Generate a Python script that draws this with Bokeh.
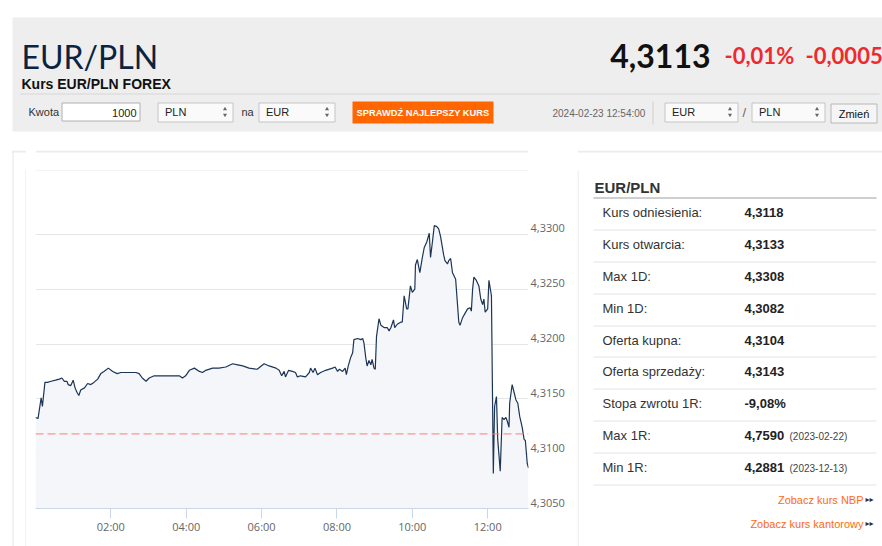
import pandas as pd
from bokeh.plotting import figure
from bokeh.models import (Range1d, LinearAxis, FixedTicker, CustomJSTickFormatter,
                          DatetimeTickFormatter, Span, ColumnDataSource)
from bokeh.layouts import column, row
from bokeh.core.properties import value
from bokeh.embed import file_html
from bokeh.resources import INLINE

# ---------------- data ----------------
DATE = "2024-02-23"
times = [
    "00:00", "00:04", "00:09", "00:11", "00:15", "00:19", "00:25", "00:32", "00:38", "00:42",
    "00:46", "00:50", "00:52", "00:56", "01:00", "01:03", "01:06", "01:09", "01:12", "01:18",
    "01:23", "01:28", "01:33", "01:39", "01:44", "01:49", "01:56", "02:03", "02:10", "02:16",
    "02:24", "02:32", "02:40", "02:45", "02:50", "02:56", "03:01", "03:09", "03:20", "03:35",
    "03:49", "03:54", "03:59", "04:05", "04:13", "04:21", "04:26", "04:31", "04:42", "04:52",
    "05:03", "05:14", "05:22", "05:30", "05:40", "05:53", "06:04", "06:12", "06:23", "06:28",
    "06:32", "06:36", "06:38", "06:43", "06:49", "06:54", "06:57", "07:02", "07:10", "07:16",
    "07:18", "07:22", "07:25", "07:29", "07:34", "07:42", "07:53", "07:57", "08:01", "08:04",
    "08:09", "08:13", "08:15", "08:18", "08:22", "08:25", "08:27", "08:33", "08:38", "08:41",
    "08:43", "08:46", "08:48", "08:51", "08:54", "08:56", "08:59", "09:01", "09:03", "09:07",
    "09:10", "09:15", "09:20", "09:23", "09:26", "09:30", "09:32", "09:36", "09:42", "09:44",
    "09:47", "09:51", "09:53", "09:57", "10:00", "10:04", "10:05", "10:08", "10:12", "10:16",
    "10:19", "10:23", "10:27", "10:29", "10:32", "10:35", "10:39", "10:42", "10:45", "10:50",
    "10:52", "10:56", "10:58", "11:01", "11:04", "11:09", "11:14", "11:16", "11:20", "11:23",
    "11:28", "11:32", "11:34", "11:36", "11:38", "11:42", "11:46", "11:49", "11:52", "11:54",
    "11:56", "12:00", "12:02", "12:06", "12:09", "12:11", "12:14", "12:16", "12:20", "12:23",
    "12:26", "12:29", "12:31", "12:34", "12:35", "12:38", "12:39", "12:42", "12:45", "12:48",
    "12:51", "12:55", "12:58", "13:00", "13:03", "13:05",
]
rates = [
    4.3133, 4.3132, 4.3151, 4.3143, 4.3165, 4.3165, 4.3166, 4.3167, 4.3168, 4.3169,
    4.3166, 4.3166, 4.3163, 4.3162, 4.3167, 4.3160, 4.3156, 4.3153, 4.3158, 4.3160,
    4.3164, 4.3163, 4.3165, 4.3168, 4.3173, 4.3175, 4.3178, 4.3175, 4.3173, 4.3174,
    4.3174, 4.3174, 4.3174, 4.3173, 4.3169, 4.3166, 4.3169, 4.3171, 4.3171, 4.3171,
    4.3171, 4.3169, 4.3171, 4.3176, 4.3178, 4.3175, 4.3174, 4.3176, 4.3178, 4.3178,
    4.3179, 4.3182, 4.3181, 4.3180, 4.3178, 4.3177, 4.3182, 4.3180, 4.3178, 4.3176,
    4.3171, 4.3175, 4.3170, 4.3176, 4.3175, 4.3174, 4.3170, 4.3171, 4.3170, 4.3174,
    4.3178, 4.3174, 4.3178, 4.3172, 4.3174, 4.3176, 4.3178, 4.3179, 4.3175, 4.3177,
    4.3175, 4.3178, 4.3172, 4.3180, 4.3188, 4.3192, 4.3204, 4.3205, 4.3204, 4.3205,
    4.3201, 4.3187, 4.3180, 4.3185, 4.3181, 4.3186, 4.3178, 4.3177, 4.3207, 4.3223,
    4.3217, 4.3215, 4.3215, 4.3212, 4.3215, 4.3222, 4.3215, 4.3218, 4.3220, 4.3220,
    4.3244, 4.3232, 4.3232, 4.3253, 4.3247, 4.3250, 4.3272, 4.3277, 4.3265, 4.3279,
    4.3288, 4.3293, 4.3301, 4.3279, 4.3293, 4.3308, 4.3307, 4.3305, 4.3298, 4.3281,
    4.3276, 4.3273, 4.3276, 4.3278, 4.3265, 4.3259, 4.3220, 4.3217, 4.3224, 4.3227,
    4.3232, 4.3233, 4.3230, 4.3250, 4.3261, 4.3258, 4.3253, 4.3241, 4.3236, 4.3241,
    4.3229, 4.3232, 4.3258, 4.3244, 4.3082, 4.3143, 4.3152, 4.3113, 4.3084, 4.3133,
    4.3131, 4.3133, 4.3130, 4.3124, 4.3146, 4.3159, 4.3163, 4.3156, 4.3149, 4.3146,
    4.3134, 4.3124, 4.3113, 4.3112, 4.3091, 4.3087,
]
ref_rate = 4.3118
y_ticks = [4.3050, 4.3100, 4.3150, 4.3200, 4.3250, 4.3300, 4.3350]
x_tick_labels = ["02:00", "04:00", "06:00", "08:00", "10:00", "12:00"]
x_start, x_end = "00:00", "13:05"

pair = "EUR/PLN"
subtitle = "Kurs EUR/PLN FOREX"
last_rate = "4,3113"
change_pct = "-0,01%"
change_abs = "-0,0005"
timestamp = "2024-02-23 12:54:00"
amount = "1000"
stat_labels = ["Kurs odniesienia:", "Kurs otwarcia:", "Max 1D:", "Min 1D:", "Oferta kupna:",
               "Oferta sprzedaży:", "Stopa zwrotu 1R:", "Max 1R:", "Min 1R:"]
stat_values = ["4,3118", "4,3133", "4,3308", "4,3082", "4,3104", "4,3143", "-9,08%", "4,7590", "4,2881"]
stat_dates = ["", "", "", "", "", "", "", "(2023-02-22)", "(2023-12-13)"]
links = ["Zobacz kurs NBP", "Zobacz kurs kantorowy"]

SANS = "Liberation Sans"


def pixfig(w, h, x0, y0):
    p = figure(width=w, height=h, x_range=Range1d(x0, x0 + w), y_range=Range1d(y0 + h, y0),
               toolbar_location=None, output_backend="svg", x_axis_location=None,
               y_axis_location=None, min_border=0, outline_line_color=None,
               background_fill_color="white", border_fill_color="white")
    p.grid.visible = False
    return p


def txt(p, x, y, s, size, color="#333333", font=SANS, style="normal", align="left", baseline="middle"):
    p.text(x=[x], y=[y], text=[s], text_font=value(font), text_font_size=value(size),
           text_font_style=style, text_color=color, text_align=align, text_baseline=baseline)


# ---------------- header ----------------
hdr = pixfig(882, 150, 0, 0)
hdr.quad(left=[12], right=[882], top=[17], bottom=[131], fill_color="#eeeeee", line_color=None)
txt(hdr, 21, 55.5, pair, "32px", color="#0a2342", font="Lato", baseline="alphabetic")
txt(hdr, 21, 83, subtitle, "14px", color="#111111", style="bold", baseline="alphabetic")
txt(hdr, 710, 55.5, last_rate, "32px", color="#111111", font="Lato", style="bold",
    align="right", baseline="alphabetic")
txt(hdr, 724, 54.5, change_pct, "22px", color="#ee2a2f", font="Lato", style="bold", baseline="alphabetic")
txt(hdr, 805, 54.5, change_abs, "22px", color="#ee2a2f", font="Lato", style="bold", baseline="alphabetic")
hdr.segment(x0=[20], y0=[93.5], x1=[879], y1=[93.5], line_color="#d6d6d6", line_width=1)

txt(hdr, 28, 111.5, "Kwota", "11px", color="#333333")
hdr.quad(left=[61.5], right=[139.5], top=[102.5], bottom=[120.5], fill_color="white",
         line_color="#b0b0b0", line_width=1)
txt(hdr, 136, 112, amount, "11px", color="#222222", align="right")

selects = [(157.5, 232.5, "PLN"), (258.5, 334.5, "EUR"), (664.5, 737.5, "EUR"), (751.5, 824.5, "PLN")]
for l, r, s in selects:
    hdr.quad(left=[l], right=[r], top=[102.5], bottom=[121.5], fill_color="#fafafa",
             line_color="#c4c4c4", line_width=1)
    txt(hdr, l + 7, 111.5, s, "11px", color="#222222")
    hdr.scatter(x=[r - 8, r - 8], y=[108.5, 114.5], marker=["triangle", "inverted_triangle"],
                size=4, fill_color="#666666", line_color=None)
txt(hdr, 241, 111.5, "na", "11px", color="#333333")
txt(hdr, 742, 112, "/", "13px", color="#666666")

hdr.quad(left=[352], right=[493], top=[101], bottom=[123], fill_color="#ff6600", line_color=None)
txt(hdr, 422.5, 112, "SPRAWDŹ NAJLEPSZY KURS", "9.3px", color="white", style="bold", align="center")
txt(hdr, 552, 112.5, timestamp, "10px", color="#666666")
hdr.segment(x0=[652.5], y0=[101], x1=[652.5], y1=[124], line_color="#cfcfcf", line_width=1)
hdr.quad(left=[830.5], right=[876.5], top=[103.5], bottom=[122.5], fill_color="#f5f5f5",
         line_color="#b8b8b8", line_width=1)
txt(hdr, 853.5, 113, "Zmień", "11px", color="#111111", align="center")

# ---------------- left strip / top strip ----------------
lft = pixfig(26, 396, 0, 150)
lft.quad(left=[12], right=[26], top=[150], bottom=[152], fill_color="#ececec", line_color=None)
lft.segment(x0=[12.5, 25.5, 25], y0=[150, 170, 170.5], x1=[12.5, 25.5, 26], y1=[546, 546, 170.5],
            line_color="#e6e6e6", line_width=1)

top = pixfig(551, 21, 26, 150)
top.quad(left=[26], right=[577], top=[150], bottom=[152], fill_color="#ececec", line_color=None)
top.segment(x0=[26], y0=[170.5], x1=[577], y1=[170.5], line_color="#e6e6e6", line_width=1)

# ---------------- chart ----------------
src = ColumnDataSource(dict(t=pd.to_datetime([f"{DATE} {t}" for t in times]), v=rates))
ymin, ymax = y_ticks[0], y_ticks[-1]
chart = figure(width=551, height=375, x_axis_type="datetime",
               x_range=Range1d(pd.Timestamp(f"{DATE} {x_start}"), pd.Timestamp(f"{DATE} {x_end}")),
               y_range=Range1d(ymin, ymax), y_axis_location=None,
               toolbar_location=None, output_backend="svg",
               min_border_left=9, min_border_right=49, min_border_top=8, min_border_bottom=38,
               outline_line_color=None, background_fill_color="white", border_fill_color="white")
chart.xgrid.visible = False
chart.ygrid.ticker = FixedTicker(ticks=y_ticks)
chart.ygrid.grid_line_color = "#e6e6e6"
chart.ygrid.grid_line_width = 1

chart.varea(x="t", y1=ymin, y2="v", source=src, fill_color="#f4f6f9")
chart.line(x="t", y="v", source=src, line_color="#1c3556", line_width=1.2)
chart.add_layout(Span(location=ref_rate, dimension="width", line_color="#ff7b7b",
                      line_dash="8 4", line_width=1))

xa = chart.xaxis[0]
xa.ticker = FixedTicker(ticks=[pd.Timestamp(f"{DATE} {l}").value / 1e6 for l in x_tick_labels])
xa.formatter = DatetimeTickFormatter(hours="%H:%M", hourmin="%H:%M", minutes="%H:%M", minsec="%H:%M")
xa.axis_line_color = "#ccd6eb"
xa.major_tick_line_color = "#ccd6eb"
xa.major_tick_out = 10
xa.major_tick_in = 0
xa.minor_tick_line_color = None
xa.major_label_standoff = 0
xa.major_label_text_font = "Open Sans"
xa.major_label_text_font_size = "11px"
xa.major_label_text_color = "#666666"

# labels sit slightly above their grid lines
shift = 6 * (ymax - ymin) / 329.0
chart.extra_y_ranges = {"lab": Range1d(ymin - shift, ymax - shift)}
ya = LinearAxis(y_range_name="lab", ticker=FixedTicker(ticks=y_ticks),
                formatter=CustomJSTickFormatter(code="return tick.toFixed(4).replace('.', ',');"),
                axis_line_color=None, major_tick_line_color=None, minor_tick_line_color=None,
                major_tick_out=0, major_tick_in=0, minor_tick_out=0, minor_tick_in=0,
                major_label_standoff=2, major_label_text_font="Open Sans",
                major_label_text_font_size="11px", major_label_text_color="#666666")
chart.add_layout(ya, "right")

# ---------------- side table ----------------
side = pixfig(305, 396, 577, 150)
side.quad(left=[577], right=[882], top=[150], bottom=[152], fill_color="#ececec", line_color=None)
side.segment(x0=[577.5], y0=[170], x1=[577.5], y1=[546], line_color="#e6e6e6", line_width=1)
txt(side, 594, 187, pair, "15px", color="#333333", style="bold", baseline="alphabetic")
side.segment(x0=[593], y0=[197.5], x1=[876], y1=[197.5], line_color="#9e9e9e", line_width=1)
row_y0, row_h = 212.3, 31.8
for i, (lab, val, dt) in enumerate(zip(stat_labels, stat_values, stat_dates)):
    y = row_y0 + i * row_h
    txt(side, 602, y, lab, "13px", color="#333333")
    txt(side, 744, y, val, "13px", color="#222222", style="bold")
    if dt:
        txt(side, 789, y + 1, dt, "10px", color="#444444")
    sy = round(y + 17) + 0.5
    side.segment(x0=[593], y0=[sy], x1=[876], y1=[sy], line_color="#e4e4e4", line_width=1)
for j, lk in enumerate(links):
    y = 499.3 + j * 23.7
    txt(side, 863, y, lk, "11px", color="#ff6a13", align="right")
    txt(side, 865, y, "▸▸", "8px", color="#333333", font="DejaVu Sans")

layout = column(hdr, row(lft, column(top, chart), side))
open("out.html", "w").write(file_html(layout, INLINE))
